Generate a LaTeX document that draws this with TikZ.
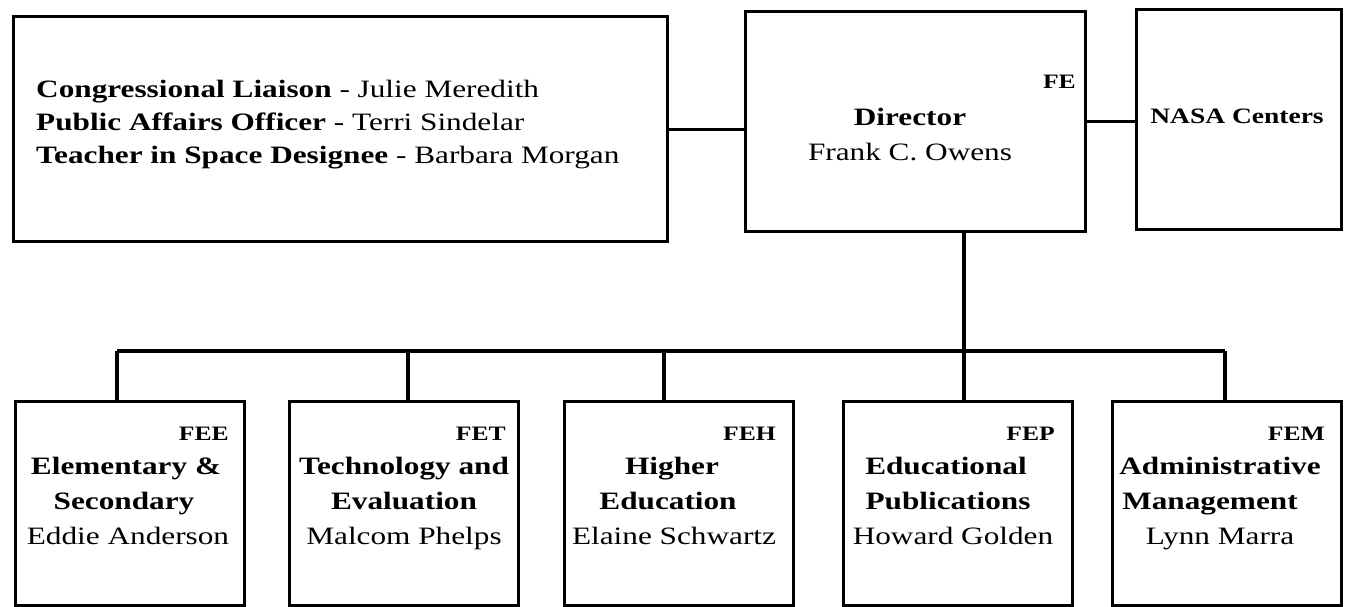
\documentclass[tikz,border=0pt]{standalone}
\usepackage{fontspec}
\setmainfont{Liberation Serif}[FakeStretch=1.25]
\begin{document}
\begin{tikzpicture}[x=1pt,y=-1pt]
\tikzset{
  box/.style={draw, line width=3.2pt, rectangle, inner sep=0pt, anchor=north west},
  conn/.style={line width=3.2pt},
  ttl/.style={font=\fontsize{25}{30}\bfseries\selectfont, anchor=base, inner sep=0pt},
  nm/.style={font=\fontsize{25}{30}\selectfont, anchor=base, inner sep=0pt},
  code/.style={font=\fontsize{20.5}{24}\bfseries\selectfont, anchor=base east, inner sep=0pt},
  lft/.style={font=\fontsize{25}{30}\selectfont, anchor=base west, inner sep=0pt},
  lowbox/.style={box, minimum width=229pt, minimum height=204pt}
}
\useasboundingbox (0,0) rectangle (1348,606);

% top row
\node[box, minimum width=654pt, minimum height=225pt] (liaison) at (12,15) {};
\node[box, minimum width=340pt, minimum height=220pt] (director) at (744,10) {};
\node[box, minimum width=205pt, minimum height=220pt] (nasa) at (1135,8) {};

\node[lft] (l1) at (36,97) {\textbf{Congressional Liaison} - Julie Meredith};
\node[lft] (l2) at (36,130) {\textbf{Public Affairs Officer} - Terri Sindelar};
\node[lft] (l3) at (36,163) {\textbf{Teacher in Space Designee} - Barbara Morgan};

\node[code] (fe) at (1076,88) {FE};
\node[ttl] (dirt) at (910,125) {Director};
\node[nm] (dirn) at (910,160) {Frank C. Owens};
\node[ttl, font=\fontsize{22}{26}\bfseries\selectfont] (nasat) at (1237,123) {NASA Centers};

\draw[conn] (liaison.east) -- (liaison.east -| director.west);
\draw[conn] (director.east) -- (director.east -| nasa.west);

% bottom row
\node[lowbox] (b1) at (14,400) {};
\node[lowbox] (b2) at (288,400) {};
\node[lowbox] (b3) at (563,400) {};
\node[lowbox] (b4) at (842,400) {};
\node[lowbox] (b5) at (1111,400) {};

\coordinate (t1) at (117,351);
\coordinate (t2) at (408,351);
\coordinate (t3) at (664,351);
\coordinate (t4) at (964,351);
\coordinate (t5) at (1225,351);

\draw[conn] (t4 |- director.south) -- (t4);
\draw[conn] (t1) -- (t5);
\foreach \i in {1,...,5}{
  \draw[conn] (t\i) -- (t\i |- b\i.north);
}

% texts in bottom boxes
\node[code] (c1) at (229,440) {FEE};
\node[ttl] (a1) at (126,474) {Elementary \&};
\node[ttl] (s1) at (124,509) {Secondary};
\node[nm] (n1) at (128,544) {Eddie Anderson};

\node[code] (c2) at (506,440) {FET};
\node[ttl] (a2) at (404,474) {Technology and};
\node[ttl] (s2) at (404,509) {Evaluation};
\node[nm] (n2) at (404,544) {Malcom Phelps};

\node[code] (c3) at (776,440) {FEH};
\node[ttl] (a3) at (672,474) {Higher};
\node[ttl] (s3) at (668,509) {Education};
\node[nm] (n3) at (674,544) {Elaine Schwartz};

\node[code] (c4) at (1055,440) {FEP};
\node[ttl] (a4) at (946,474) {Educational};
\node[ttl] (s4) at (948,509) {Publications};
\node[nm] (n4) at (953,544) {Howard Golden};

\node[code] (c5) at (1325,440) {FEM};
\node[ttl] (a5) at (1220,474) {Administrative};
\node[ttl] (s5) at (1210,509) {Management};
\node[nm] (n5) at (1220,544) {Lynn Marra};
\end{tikzpicture}
\end{document}
